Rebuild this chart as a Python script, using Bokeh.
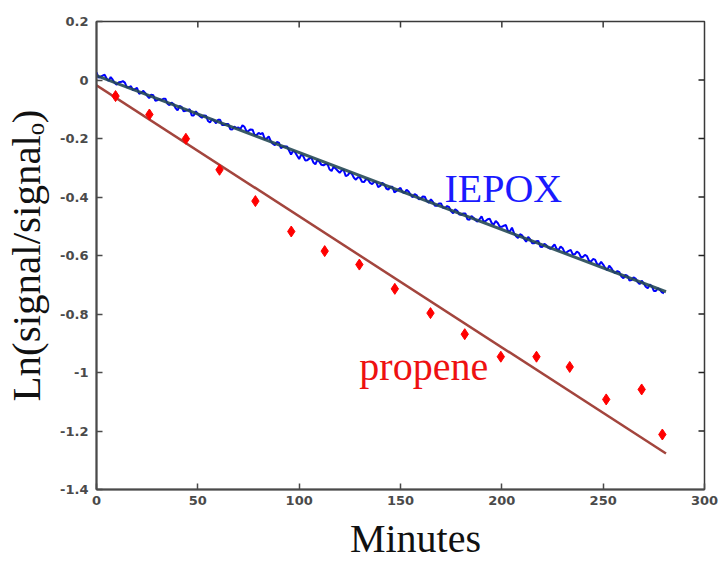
from bokeh.plotting import figure
from bokeh.models import FixedTicker, Label, Range1d
from bokeh.embed import file_html
from bokeh.resources import INLINE

# ---- data ----
x_ticks = [0, 50, 100, 150, 200, 250, 300]
y_ticks = [-1.4, -1.2, -1.0, -0.8, -0.6, -0.4, -0.2, 0.0, 0.2]
y_tick_labels = ["-1.4", "-1.2", "-1", "-0.8", "-0.6", "-0.4", "-0.2", "0", "0.2"]

propene_minutes = [9.4, 26.1, 44.1, 60.7, 78.4, 96.1, 112.6, 129.7, 147.2,
                   164.8, 181.7, 199.5, 217.1, 233.5, 251.5, 269.0, 279.2]
propene_ln = [-0.055, -0.118, -0.201, -0.307, -0.414, -0.518, -0.585, -0.631,
              -0.714, -0.797, -0.869, -0.946, -0.946, -0.981, -1.092, -1.058, -1.212]
propene_fit_minutes = [0.0, 281.0]
propene_fit_ln = [-0.018, -1.277]

iepox_minutes = list(range(0, 281))
iepox_ln = [
    0.026, 0.008, 0.011, 0.015, 0.018, 0.005, -0.003, 0.010, 0.001, -0.010,
    -0.016, -0.008, -0.007, -0.004, -0.009, -0.025, -0.025, -0.021, -0.035, -0.031,
    -0.027, -0.047, -0.045, -0.037, -0.044, -0.054, -0.062, -0.050, -0.052, -0.071,
    -0.069, -0.065, -0.069, -0.064, -0.064, -0.081, -0.086, -0.077, -0.082, -0.096,
    -0.104, -0.089, -0.092, -0.107, -0.105, -0.103, -0.100, -0.121, -0.121, -0.107,
    -0.116, -0.124, -0.129, -0.121, -0.122, -0.140, -0.145, -0.134, -0.139, -0.148,
    -0.136, -0.136, -0.154, -0.154, -0.150, -0.150, -0.168, -0.169, -0.159, -0.164,
    -0.162, -0.168, -0.155, -0.160, -0.175, -0.174, -0.169, -0.170, -0.188, -0.188,
    -0.181, -0.185, -0.181, -0.202, -0.200, -0.193, -0.209, -0.218, -0.223, -0.212,
    -0.214, -0.233, -0.229, -0.227, -0.227, -0.241, -0.255, -0.242, -0.247, -0.259,
    -0.270, -0.255, -0.260, -0.275, -0.274, -0.269, -0.265, -0.282, -0.288, -0.273,
    -0.280, -0.290, -0.292, -0.287, -0.288, -0.306, -0.311, -0.296, -0.303, -0.310,
    -0.317, -0.309, -0.308, -0.329, -0.325, -0.316, -0.321, -0.334, -0.341, -0.332,
    -0.334, -0.348, -0.349, -0.339, -0.341, -0.352, -0.356, -0.348, -0.349, -0.366,
    -0.362, -0.351, -0.357, -0.371, -0.375, -0.365, -0.365, -0.384, -0.379, -0.374,
    -0.369, -0.383, -0.387, -0.375, -0.381, -0.392, -0.401, -0.390, -0.394, -0.408,
    -0.406, -0.398, -0.399, -0.414, -0.420, -0.408, -0.417, -0.430, -0.430, -0.422,
    -0.422, -0.437, -0.438, -0.431, -0.435, -0.449, -0.456, -0.442, -0.447, -0.460,
    -0.461, -0.456, -0.456, -0.476, -0.478, -0.465, -0.471, -0.479, -0.484, -0.476,
    -0.466, -0.483, -0.482, -0.476, -0.474, -0.489, -0.494, -0.482, -0.489, -0.502,
    -0.502, -0.498, -0.496, -0.516, -0.517, -0.505, -0.523, -0.534, -0.540, -0.527,
    -0.531, -0.543, -0.553, -0.536, -0.545, -0.558, -0.558, -0.551, -0.550, -0.570,
    -0.571, -0.560, -0.565, -0.574, -0.577, -0.570, -0.562, -0.577, -0.581, -0.569,
    -0.575, -0.590, -0.589, -0.584, -0.581, -0.596, -0.596, -0.587, -0.591, -0.605,
    -0.605, -0.598, -0.602, -0.618, -0.621, -0.612, -0.614, -0.629, -0.632, -0.622,
    -0.631, -0.643, -0.650, -0.635, -0.643, -0.655, -0.661, -0.653, -0.657, -0.672,
    -0.678, -0.666, -0.670, -0.686, -0.684, -0.675, -0.679, -0.691, -0.698, -0.686,
    -0.695, -0.707, -0.712, -0.699, -0.705, -0.721, -0.721, -0.712, -0.717, -0.726,
    -0.729,
]
iepox_fit_minutes = [0.0, 281.0]
iepox_fit_ln = [0.015, -0.724]

serif = "Liberation Serif"
ink = "#111111"

# ---- main plot ----
X0, X1, Y0, Y1 = 0, 300, -1.4, 0.2
p = figure(width=719, height=564, output_backend="svg", toolbar_location=None,
           x_range=Range1d(X0, X1), y_range=Range1d(Y0, Y1),
           min_border_left=96, min_border_right=15, min_border_top=21,
           min_border_bottom=75, background_fill_color="white",
           border_fill_color="white")
p.grid.visible = False
p.outline_line_color = "#3a3a3a"
p.outline_line_width = 1.5

frame_col = "#4a4a4a"
for ax in (p.xaxis[0], p.yaxis[0]):
    ax.axis_line_color = frame_col
    ax.axis_line_width = 2
    ax.major_tick_line_color = frame_col
    ax.major_tick_line_width = 1.5
    ax.major_tick_in = 6
    ax.major_tick_out = 0
    ax.minor_tick_line_color = None
    ax.major_label_text_font = "DejaVu Sans"
    ax.major_label_text_font_style = "bold"
    ax.major_label_text_font_size = "13px"
    ax.major_label_text_color = "#4a4a4a"
    ax.axis_label_text_font = serif
    ax.axis_label_text_font_style = "normal"
    ax.axis_label_text_color = ink

p.xaxis[0].ticker = FixedTicker(ticks=x_ticks)
p.yaxis[0].ticker = FixedTicker(ticks=y_ticks)
p.yaxis[0].major_label_overrides = {t: s for t, s in zip(y_ticks, y_tick_labels)}
p.xaxis[0].major_label_standoff = 6
p.yaxis[0].major_label_standoff = 8

yax = p.yaxis[0]
yax.axis_label = "Ln(signal/signal\u2092)"
yax.axis_label_text_font_size = "41px"
yax.axis_label_standoff = 8

xax = p.xaxis[0]
# leading no-break spaces shift the centred title right, as in the reference
xax.axis_label = "\u00a0\u00a0\u00a0Minutes"
xax.axis_label_text_font_size = "40px"
xax.axis_label_standoff = 8

# mirrored inward ticks on top and right (tick length ~6 px)
tick_dx = 6 * (X1 - X0) / 608.0
tick_dy = 6 * (Y1 - Y0) / 468.0
p.segment(x0=x_ticks[1:-1], y0=[Y1] * 5, x1=x_ticks[1:-1], y1=[Y1 - tick_dy] * 5,
          line_color="#3a3a3a", line_width=1.5)
p.segment(x0=[X1] * 7, y0=y_ticks[1:-1], x1=[X1 - tick_dx] * 7, y1=y_ticks[1:-1],
          line_color="#222222", line_width=1.5)

# propene
p.line(propene_fit_minutes, propene_fit_ln, line_color="#a3453d", line_width=2.5)
p.scatter(propene_minutes, propene_ln, marker="diamond", size=11,
          fill_color="#ff0000", line_color="#ff0000")

# IEPOX
p.line(iepox_minutes, iepox_ln, line_color="#0000ff", line_width=2)
p.line(iepox_fit_minutes, iepox_fit_ln, line_color="#264955", line_width=3, line_alpha=0.9)

p.add_layout(Label(x=171.7, y=-0.413, y_offset=12, text="IEPOX", text_font=serif,
                   text_font_size="40px", text_color="#1a1aff",
                   text_baseline="alphabetic", text_align="left"))
p.add_layout(Label(x=129.7, y=-1.014, y_offset=10, text="propene", text_font=serif,
                   text_font_size="40px", text_color="#ee1111",
                   text_baseline="alphabetic", text_align="left"))

open("out.html", "w").write(file_html(p, INLINE))
